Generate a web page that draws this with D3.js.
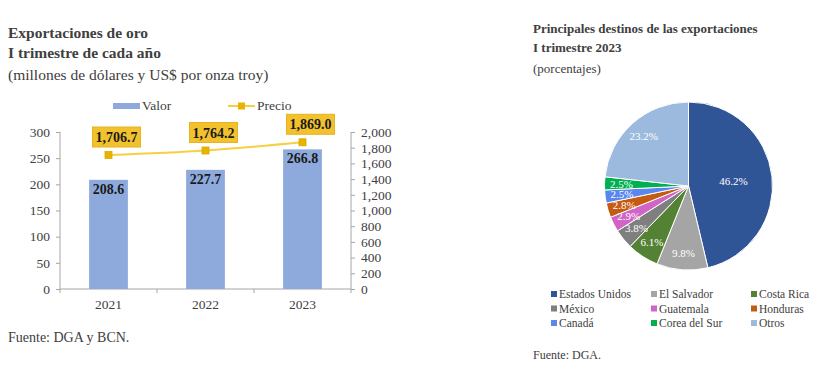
<!DOCTYPE html>
<html><head><meta charset="utf-8">
<script src="https://cdn.jsdelivr.net/npm/d3@7"></script>
<style>
html,body{margin:0;padding:0;background:#fff;}
svg{display:block;}
svg text{font-family:"Liberation Serif","DejaVu Serif",serif;}
</style></head>
<body><svg id="c" width="826" height="390"></svg>
<script>
// ---- Data ----
const years = ["2021", "2022", "2023"];
const valor = [208.6, 227.7, 266.8];
const precio = [1706.7, 1764.2, 1869.0];
const leftTicks = [0, 50, 100, 150, 200, 250, 300];
const rightTicks = [0, 200, 400, 600, 800, 1000, 1200, 1400, 1600, 1800, 2000];

const destinos = ["Estados  Unidos", "El Salvador", "Costa Rica", "México", "Guatemala", "Honduras", "Canadá", "Corea del Sur", "Otros"];
const shares = [46.2, 9.8, 6.1, 3.8, 2.9, 2.8, 2.5, 2.5, 23.2];
const pieColors = ["#2F5597", "#A5A5A5", "#548235", "#7F7F7F", "#D065C6", "#C55A11", "#5B86EE", "#00B050", "#9CB9DE"];

const FF = "Liberation Serif, DejaVu Serif, serif";
const svg = d3.select("#c");
const txt = "#404040";

function T(x, y, s, size, bold) {
  return svg.append("text").attr("x", x).attr("y", y).attr("font-size", size)
    .attr("font-family", FF).attr("font-weight", bold ? "bold" : "normal").attr("fill", txt).text(s);
}

// ---- Left chart ----
T(8, 38, "Exportaciones de oro", 15.5, true);
T(8, 58, "I trimestre de cada año", 15.5, true);
T(8, 80, "(millones de dólares y US$ por onza troy)", 15.5, false);

const x = d3.scaleBand().domain(years).range([60, 351]).paddingInner(0.6).paddingOuter(0.3);
const xb = d3.scaleBand().domain(years).range([60, 351]);
const yL = d3.scaleLinear().domain([0, 300]).range([289, 132]);
const yR = d3.scaleLinear().domain([0, 2000]).range([289, 132]);

const axisColor = "#A6A6A6";
const gL = svg.append("g").attr("transform", "translate(60,0)")
  .call(d3.axisLeft(yL).tickValues(leftTicks).tickSize(4).tickPadding(6).tickFormat(d3.format("d")));
const gR = svg.append("g").attr("transform", "translate(351,0)")
  .call(d3.axisRight(yR).tickValues(rightTicks).tickSize(4).tickPadding(6).tickFormat(d3.format(",")));
[gL, gR].forEach(g => {
  g.attr("font-family", FF);
  g.select(".domain").attr("stroke", axisColor).attr("d", "M0,289V132");
  g.selectAll(".tick line").attr("stroke", axisColor);
  g.selectAll("text").attr("font-size", 13.5).attr("fill", txt).attr("font-family", FF);
});
const gX = svg.append("g").attr("transform", "translate(0,289)");
gX.append("line").attr("x1", 60).attr("x2", 351).attr("stroke", axisColor);
const bounds = years.map(d => xb(d)).concat([xb(years[years.length - 1]) + xb.bandwidth()]);
gX.selectAll(".xt").data(bounds).enter().append("line")
  .attr("x1", d => d).attr("x2", d => d).attr("y1", 0).attr("y2", 4).attr("stroke", axisColor);
gX.selectAll(".xl").data(years).enter().append("text")
  .attr("x", d => xb(d) + xb.bandwidth() / 2).attr("y", 20).attr("text-anchor", "middle")
  .attr("font-family", FF).attr("font-size", 13.5).attr("fill", txt).text(d => d);

// bars
svg.selectAll(".bar").data(years).enter().append("rect")
  .attr("x", d => x(d)).attr("width", x.bandwidth())
  .attr("y", (d, i) => yL(valor[i])).attr("height", (d, i) => yL(0) - yL(valor[i]))
  .attr("fill", "#8EAADC");
svg.selectAll(".bl").data(years).enter().append("text")
  .attr("x", d => x(d) + x.bandwidth() / 2).attr("y", (d, i) => yL(valor[i]) + 14)
  .attr("text-anchor", "middle").attr("font-family", FF).attr("font-size", 14).attr("font-weight", "bold").attr("fill", "#1a1a1a")
  .text((d, i) => valor[i].toFixed(1));

// line
const cx = d => xb(d) + xb.bandwidth() / 2;
const line = d3.line().curve(d3.curveMonotoneX).x(d => cx(d.y)).y(d => yR(d.v));
const pts = years.map((y, i) => ({ y, v: precio[i] }));
svg.append("path").attr("d", line(pts)).attr("fill", "none").attr("stroke", "#F7CF45").attr("stroke-width", 2);
svg.selectAll(".mk").data(pts).enter().append("rect")
  .attr("x", d => cx(d.y) - 3.5).attr("y", d => yR(d.v) - 3.5).attr("width", 7).attr("height", 7)
  .attr("fill", "#E8B400").attr("stroke", "#D9A800").attr("stroke-width", 0.8);
const fmt = d3.format(",.1f");
const lab = svg.selectAll(".pl").data(pts).enter().append("g")
  .attr("transform", d => `translate(${cx(d.y) + 8},${yR(d.v) - 18})`);
lab.append("rect").attr("x", -24).attr("y", -10).attr("width", 48).attr("height", 20)
  .attr("fill", "#F2C12E").attr("stroke", "#E6B422").attr("stroke-width", 1);
lab.append("text").attr("text-anchor", "middle").attr("y", 5).attr("font-family", FF).attr("font-size", 14).attr("font-weight", "bold")
  .attr("fill", "#1a1a1a").text(d => fmt(d.v));

// legend
svg.append("rect").attr("x", 113).attr("y", 103).attr("width", 27).attr("height", 6).attr("fill", "#8EAADC");
T(142, 110, "Valor", 13.5, false);
svg.append("line").attr("x1", 228).attr("x2", 255).attr("y1", 106).attr("y2", 106).attr("stroke", "#F7CF45").attr("stroke-width", 2);
svg.append("rect").attr("x", 238).attr("y", 102.5).attr("width", 7).attr("height", 7).attr("fill", "#E8B400");
T(257, 110, "Precio", 13.5, false);

T(8, 342, "Fuente: DGA y BCN.", 14, false);

// ---- Right chart ----
T(533, 33, "Principales destinos de las exportaciones", 13, true);
T(533, 52, "I trimestre 2023", 13, true);
T(533, 73, "(porcentajes)", 13, false);

const R = 84, pcx = 688.5, pcy = 186;
const pie = d3.pie().sort(null).value(d => d.v);
const arcs = pie(destinos.map((n, i) => ({ n, v: shares[i], c: pieColors[i] })));
const arc = d3.arc().innerRadius(0).outerRadius(R);
const gP = svg.append("g").attr("transform", `translate(${pcx},${pcy})`);
gP.selectAll("path").data(arcs).enter().append("path")
  .attr("d", arc).attr("fill", d => d.data.c).attr("stroke", "#fff").attr("stroke-width", 1);
gP.selectAll(".pl").data(arcs).enter().append("text")
  .attr("transform", d => {
    const k = d.data.v > 40 ? 0.54 : 0.8;
    const c = d3.arc().innerRadius(R * k).outerRadius(R * k).centroid(d);
    return `translate(${c[0]},${c[1]})`;
  })
  .attr("text-anchor", "middle").attr("dy", "0.35em").attr("font-family", FF).attr("font-size", 11).attr("fill", "#fff")
  .text(d => d.data.v.toFixed(1) + "%");

// legend
const legX = [551, 651, 751], legY = [294, 308.5, 323];
const lg = svg.selectAll(".lg").data(destinos).enter().append("g")
  .attr("transform", (d, i) => `translate(${legX[i % 3]},${legY[Math.floor(i / 3)]})`);
lg.append("rect").attr("x", 0).attr("y", -3).attr("width", 6).attr("height", 6).attr("fill", (d, i) => pieColors[i]);
lg.append("text").attr("x", 8).attr("y", 4).attr("font-family", FF).attr("font-size", 11.5).attr("fill", txt).text(d => d);

T(533, 359, "Fuente: DGA.", 12, false);
</script></body></html>
